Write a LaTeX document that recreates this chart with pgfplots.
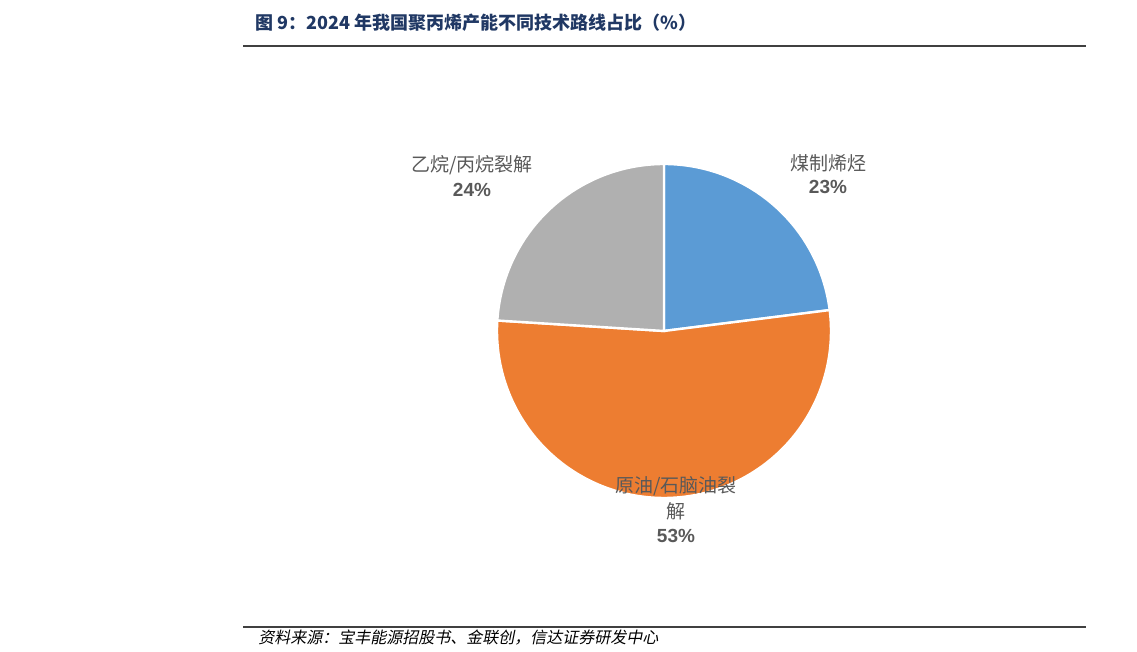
\documentclass[border=0pt]{standalone}
\usepackage{pgfplots}
\pgfplotsset{compat=1.18}
\usepackage{fontspec}
\setmainfont{Liberation Sans}
\newfontfamily\cjk{Noto Sans CJK SC}
\newfontfamily\cjkit[FakeSlant=0.2]{Noto Sans CJK SC}
\definecolor{ttl}{RGB}{32,56,100}
\definecolor{lbl}{RGB}{89,89,89}
\definecolor{cblue}{RGB}{91,155,213}
\definecolor{corange}{RGB}{237,125,49}
\definecolor{cgray}{RGB}{176,176,176}
\definecolor{rulec}{RGB}{64,64,64}
\begin{document}
\begin{tikzpicture}[x=0.5pt,y=0.5pt]
% page frame in reference pixels (y upward, 652 high)
\path (0,0) rectangle (1137,652);
% title
\node[anchor=west,inner sep=0pt,text=ttl,font=\cjk\bfseries\fontsize{9}{11}\selectfont] at (255,629) {图 9：2024 年我国聚丙烯产能不同技术路线占比（\%）};
\draw[rulec,line width=0.75pt] (243,606) -- (1086,606);
\draw[rulec,line width=0.75pt] (243,25) -- (1086,25);
\node[anchor=west,inner sep=0pt,font=\cjkit\fontsize{8}{10}\selectfont] at (258,14) {资料来源：宝丰能源招股书、金联创，信达证券研发中心};
% values (percent)
\def\va{23}\def\vb{53}\def\vc{24}
\pgfmathsetmacro{\aA}{90}
\pgfmathsetmacro{\aB}{90-3.6*\va}
\pgfmathsetmacro{\aC}{\aB-3.6*\vb}
\pgfmathsetmacro{\aD}{\aC-3.6*\vc}
\begin{axis}[
  at={(332pt,160.5pt)}, anchor=origin,
  x=0.5pt, y=0.5pt,
  xmin=-250, xmax=250, ymin=-250, ymax=250,
  hide axis, clip=false,
]
\addplot[fill=cblue, draw=white, line width=1.2pt, domain=\aB:\aA, samples=80, variable=\t]
  ({167*cos(t)},{167*sin(t)}) -- (axis cs:0,0) -- cycle;
\addplot[fill=corange, draw=white, line width=1.2pt, domain=\aC:\aB, samples=150, variable=\t]
  ({167*cos(t)},{167*sin(t)}) -- (axis cs:0,0) -- cycle;
\addplot[fill=cgray, draw=white, line width=1.2pt, domain=\aD:\aC, samples=80, variable=\t]
  ({167*cos(t)},{167*sin(t)}) -- (axis cs:0,0) -- cycle;
% labels
\node[text=lbl,font=\cjk\fontsize{9.5}{11}\selectfont] at (axis cs:164,168) {煤制烯烃};
\node[text=lbl,font=\bfseries\fontsize{9.5}{11}\selectfont] at (axis cs:164,144) {\va\%};
\node[text=lbl,font=\cjk\fontsize{9.5}{11}\selectfont] at (axis cs:-192,166) {乙烷/丙烷裂解};
\node[text=lbl,font=\bfseries\fontsize{9.5}{11}\selectfont] at (axis cs:-192,141) {\vc\%};
\node[text=lbl,font=\cjk\fontsize{9.5}{11}\selectfont] at (axis cs:12,-155) {原油/石脑油裂};
\node[text=lbl,font=\cjk\fontsize{9.5}{11}\selectfont] at (axis cs:12,-180) {解};
\node[text=lbl,font=\bfseries\fontsize{9.5}{11}\selectfont] at (axis cs:12,-205) {\vb\%};
\end{axis}
\end{tikzpicture}
\end{document}
